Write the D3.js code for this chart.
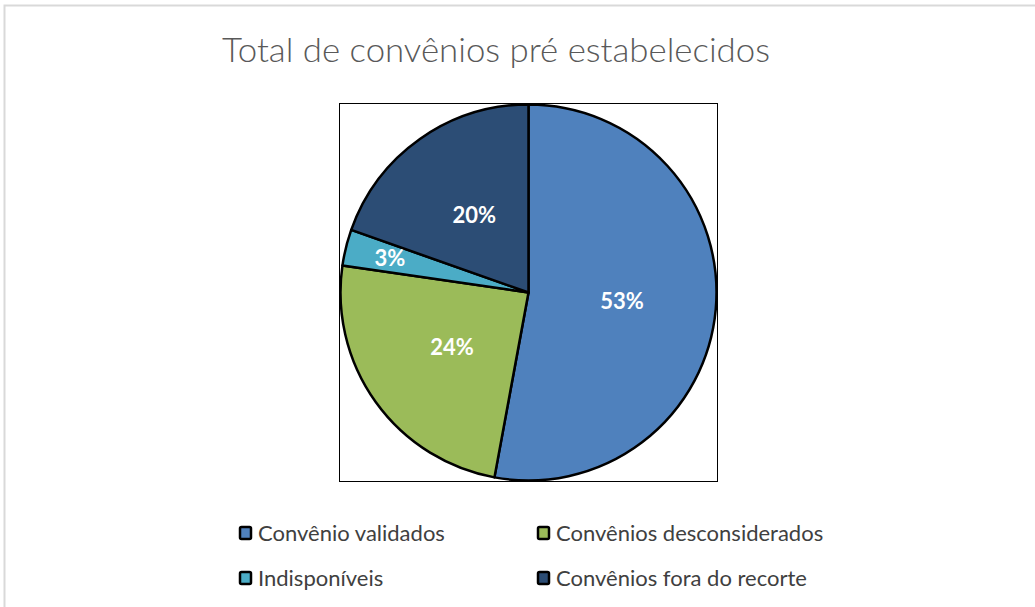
<!DOCTYPE html>
<html>
<head>
<meta charset="utf-8">
<script src="https://cdn.jsdelivr.net/npm/d3@7"></script>
<style>
  body { margin: 0; background: #fff; }
  svg { display: block; }
  text { font-family: Lato, "Open Sans", sans-serif; }
</style>
</head>
<body>
<svg width="1035" height="607"></svg>
<script>
// data
var categories = ["Convênio validados", "Convênios desconsiderados", "Indisponíveis", "Convênios fora do recorte"];
var values = [52.9, 24.4, 3.1, 19.6];
var colors = ["#4f81bd", "#9bbb59", "#4bacc6", "#2c4d75"];
var title = "Total de convênios pré estabelecidos";

var svg = d3.select("svg"),
    width = +svg.attr("width"),
    height = +svg.attr("height");

// outer chart frame
svg.append("path")
    .attr("d", "M4.5," + height + " L4.5,5.5 L" + width + ",5.5")
    .attr("fill", "none")
    .attr("stroke", "#d9d9d9")
    .attr("stroke-width", 2);

svg.append("text")
    .attr("x", 496)
    .attr("y", 62)
    .attr("text-anchor", "middle")
    .attr("textLength", 548)
    .attr("lengthAdjust", "spacingAndGlyphs")
    .style("font-size", "33px")
    .style("font-weight", 300)
    .style("fill", "#595959")
    .text(title);

// plot area box
var box = {x: 339.5, y: 103.5, w: 378, h: 378};
svg.append("rect")
    .attr("x", box.x).attr("y", box.y)
    .attr("width", box.w).attr("height", box.h)
    .attr("fill", "none")
    .attr("stroke", "#000")
    .attr("stroke-width", 1);

var cx = box.x + box.w / 2,
    cy = box.y + box.h / 2,
    r = box.w / 2 - 1;

var total = d3.sum(values);
var pie = d3.pie().sort(null).value(function(d) { return d; });
var arc = d3.arc().innerRadius(0).outerRadius(r);

var g = svg.append("g").attr("transform", "translate(" + cx + "," + cy + ")");

var slices = g.selectAll(".slice")
    .data(pie(values))
    .enter().append("g")
    .attr("class", "slice");

slices.append("path")
    .attr("d", arc)
    .attr("fill", function(d, i) { return colors[i]; })
    .attr("stroke", "#000")
    .attr("stroke-width", 2.5)
    .attr("stroke-linejoin", "round");

slices.append("text")
    .attr("transform", function(d) {
        var pct = d.value / total * 100;
        var k = pct < 5 ? 0.76 : 0.5;
        var a = (d.startAngle + d.endAngle) / 2;
        return "translate(" + (Math.sin(a) * r * k) + "," + (-Math.cos(a) * r * k) + ")";
    })
    .attr("text-anchor", "middle")
    .attr("dy", "0.35em")
    .style("font-size", "22px")
    .style("font-weight", "bold")
    .style("fill", "#fff")
    .text(function(d) { return Math.round(d.value / total * 100) + "%"; });

// legend, 2 x 2
var legend = svg.selectAll(".legend")
    .data(categories)
    .enter().append("g")
    .attr("class", "legend")
    .attr("transform", function(d, i) {
        return "translate(" + (i % 2 === 0 ? 240 : 538) + "," + (i < 2 ? 533 : 578) + ")";
    });

legend.append("rect")
    .attr("x", 0).attr("y", -6)
    .attr("width", 11).attr("height", 12)
    .attr("rx", 1.5)
    .attr("fill", function(d, i) { return colors[i]; })
    .attr("stroke", "#000")
    .attr("stroke-width", 2.5);

legend.append("text")
    .attr("x", 18)
    .attr("y", 0)
    .attr("dy", "0.35em")
    .style("font-size", "22px")
    .style("fill", "#404040")
    .text(function(d) { return d; });
</script>
</body>
</html>
